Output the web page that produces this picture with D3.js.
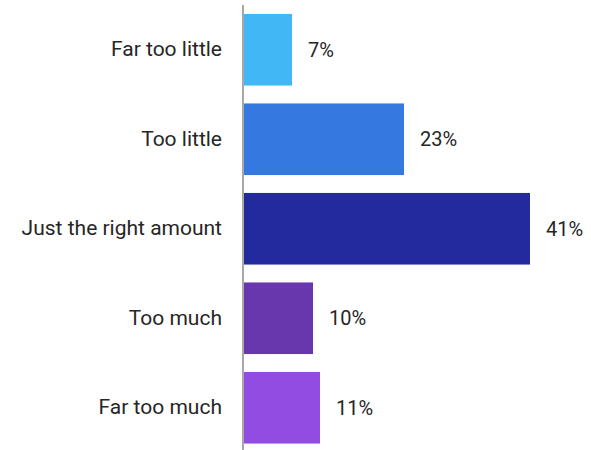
<!DOCTYPE html>
<html>
<head>
<meta charset="utf-8">
<script src="https://cdn.jsdelivr.net/npm/d3@7"></script>
<style>
  html, body { margin: 0; padding: 0; background: #fff; }
  svg { display: block; font-family: Roboto, "Noto Sans", sans-serif; }
</style>
</head>
<body>
<svg id="chart" width="591" height="450"></svg>
<script>
// Survey answers and the share of respondents for each
const categories = ["Far too little", "Too little", "Just the right amount", "Too much", "Far too much"];
const values = [7, 23, 41, 10, 11];
const colors = ["#42b7f5", "#3579e0", "#232b9c", "#6836ad", "#914de1"];

const svg = d3.select("#chart");
const axisX = 243;

const x = d3.scaleLinear().domain([0, 1]).range([axisX, axisX + 7]);
const y = d3.scaleBand()
  .domain(categories)
  .range([5, 452.5])
  .paddingInner(0.2)
  .paddingOuter(0.1);

const rows = categories.map((c, i) => ({ cat: c, val: values[i], color: colors[i] }));

// bars
svg.append("g").selectAll("rect")
  .data(rows)
  .join("rect")
  .attr("x", x(0))
  .attr("y", d => y(d.cat))
  .attr("width", d => x(d.val) - x(0))
  .attr("height", y.bandwidth())
  .attr("fill", d => d.color);

// category axis on the left
const yAxis = d3.axisLeft(y).tickSize(0).tickPadding(21);
const gAxis = svg.append("g")
  .attr("transform", `translate(${axisX},0)`)
  .call(yAxis);
gAxis.select(".domain").remove();
gAxis.selectAll("text")
  .attr("font-size", 21)
  .attr("font-family", "Roboto, sans-serif")
  .attr("fill", "#262626");

svg.append("line")
  .attr("x1", axisX).attr("x2", axisX)
  .attr("y1", 5).attr("y2", 450)
  .attr("stroke", "#a8a8a8")
  .attr("stroke-width", 2);

// value labels
svg.append("g").selectAll("text")
  .data(rows)
  .join("text")
  .attr("x", d => x(d.val) + 16)
  .attr("y", d => y(d.cat) + y.bandwidth() / 2)
  .attr("dy", "0.35em")
  .attr("font-size", 20)
  .attr("fill", "#262626")
  .text(d => d.val + "%");
</script>
</body>
</html>
